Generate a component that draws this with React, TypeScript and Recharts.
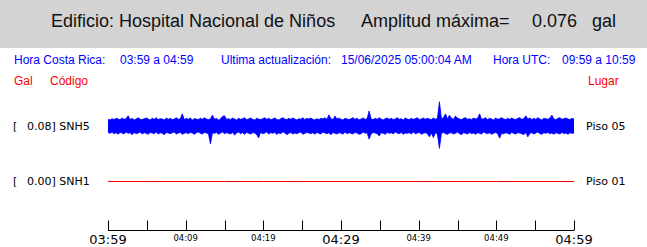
import { Area, ComposedChart, Line, XAxis, YAxis } from 'recharts'

// SNH5 (gal): upper and lower swing of the record, one value per ~2 px column of the reference
const snh5Max = [
  0.021, 0.019, 0.023, 0.020, 0.024, 0.022, 0.020, 0.025, 0.021, 0.023, 0.032, 0.020, 0.024, 0.019, 0.022, 0.026, 0.021, 0.020, 0.023, 0.025,
  0.022, 0.019, 0.024, 0.021, 0.026, 0.020, 0.023, 0.022, 0.019, 0.025, 0.021, 0.024, 0.020, 0.022, 0.026, 0.021, 0.023, 0.038, 0.020, 0.024,
  0.021, 0.025, 0.019, 0.023, 0.022, 0.020, 0.024, 0.021, 0.026, 0.022, 0.020, 0.023, 0.034, 0.021, 0.024, 0.019, 0.022, 0.030, 0.032, 0.021,
  0.023, 0.020, 0.025, 0.022, 0.019, 0.024, 0.021, 0.023, 0.026, 0.020, 0.022, 0.025, 0.021, 0.019, 0.024, 0.022, 0.020, 0.023, 0.026, 0.021,
  0.024, 0.020, 0.022, 0.025, 0.021, 0.019, 0.023, 0.026, 0.022, 0.020, 0.024, 0.021, 0.025, 0.022, 0.019, 0.023, 0.021, 0.026, 0.020, 0.024,
  0.022, 0.025, 0.021, 0.019, 0.023, 0.020, 0.024, 0.022, 0.026, 0.021, 0.035, 0.023, 0.020, 0.031, 0.022, 0.025, 0.021, 0.019, 0.024, 0.022,
  0.020, 0.023, 0.026, 0.021, 0.024, 0.019, 0.022, 0.025, 0.021, 0.023, 0.047, 0.022, 0.020, 0.024, 0.021, 0.026, 0.022, 0.019, 0.023, 0.025,
  0.021, 0.024, 0.020, 0.022, 0.026, 0.021, 0.023, 0.019, 0.025, 0.022, 0.020, 0.024, 0.021, 0.023, 0.026, 0.020, 0.022, 0.025, 0.021, 0.024,
  0.022, 0.020, 0.025, 0.021, 0.024, 0.076, 0.023, 0.026, 0.038, 0.022, 0.034, 0.024, 0.021, 0.031, 0.025, 0.022, 0.020, 0.024, 0.026, 0.021,
  0.023, 0.020, 0.025, 0.022, 0.024, 0.038, 0.021, 0.023, 0.026, 0.020, 0.024, 0.022, 0.019, 0.025, 0.021, 0.023, 0.026, 0.022, 0.020, 0.024,
  0.021, 0.025, 0.022, 0.020, 0.024, 0.026, 0.021, 0.023, 0.032, 0.022, 0.025, 0.020, 0.024, 0.021, 0.026, 0.022, 0.019, 0.024, 0.023, 0.021,
  0.025, 0.034, 0.022, 0.020, 0.024, 0.026, 0.021, 0.023, 0.025, 0.022, 0.020, 0.024, 0.022,
]
const snh5Min = [
  -0.020, -0.023, -0.019, -0.024, -0.021, -0.026, -0.020, -0.022, -0.025, -0.019, -0.023, -0.021, -0.027, -0.020, -0.024, -0.022, -0.019, -0.025, -0.021, -0.023,
  -0.026, -0.020, -0.022, -0.024, -0.019, -0.025, -0.021, -0.023, -0.027, -0.020, -0.022, -0.024, -0.021, -0.019, -0.025, -0.022, -0.020, -0.026, -0.023, -0.021,
  -0.024, -0.020, -0.022, -0.026, -0.021, -0.019, -0.023, -0.025, -0.020, -0.022, -0.024, -0.056, -0.021, -0.023, -0.020, -0.026, -0.022, -0.019, -0.024, -0.021,
  -0.023, -0.025, -0.020, -0.028, -0.022, -0.019, -0.024, -0.021, -0.026, -0.020, -0.023, -0.025, -0.021, -0.022, -0.027, -0.037, -0.020, -0.024, -0.022, -0.019,
  -0.025, -0.021, -0.023, -0.020, -0.026, -0.022, -0.024, -0.019, -0.021, -0.027, -0.023, -0.020, -0.025, -0.022, -0.024, -0.021, -0.019, -0.026, -0.023, -0.020,
  -0.022, -0.024, -0.021, -0.026, -0.020, -0.023, -0.025, -0.019, -0.022, -0.024, -0.021, -0.027, -0.020, -0.023, -0.025, -0.021, -0.022, -0.026, -0.019, -0.024,
  -0.021, -0.023, -0.025, -0.020, -0.022, -0.026, -0.024, -0.019, -0.023, -0.021, -0.041, -0.025, -0.020, -0.022, -0.024, -0.031, -0.021, -0.023, -0.026, -0.020,
  -0.023, -0.021, -0.025, -0.019, -0.022, -0.024, -0.020, -0.026, -0.022, -0.023, -0.021, -0.025, -0.019, -0.024, -0.022, -0.020, -0.026, -0.023, -0.021, -0.024,
  -0.034, -0.022, -0.036, -0.021, -0.025, -0.070, -0.023, -0.020, -0.024, -0.026, -0.022, -0.021, -0.025, -0.023, -0.019, -0.024, -0.027, -0.021, -0.023, -0.025,
  -0.020, -0.024, -0.022, -0.026, -0.021, -0.023, -0.025, -0.019, -0.022, -0.024, -0.021, -0.026, -0.023, -0.020, -0.024, -0.038, -0.022, -0.025, -0.021, -0.023,
  -0.026, -0.020, -0.023, -0.025, -0.021, -0.022, -0.024, -0.027, -0.020, -0.034, -0.023, -0.021, -0.025, -0.022, -0.019, -0.024, -0.026, -0.021, -0.023, -0.020,
  -0.024, -0.022, -0.026, -0.021, -0.023, -0.025, -0.020, -0.024, -0.022, -0.026, -0.021, -0.023, -0.022,
]
// SNH1 readings (gal) at each 5 minute mark
const snh1Minutes = [0, 5, 10, 15, 20, 25, 30, 35, 40, 45, 50, 55, 60]
const snh1 = [0, 0, 0, 0, 0, 0, 0, 0, 0, 0, 0, 0, 0]

// time axis, minutes after 03:59
const tickMinutes = [0, 5, 10, 15, 20, 25, 30, 35, 40, 45, 50, 55, 60]
const tickLabels = ['03:59', '', '04:09', '', '04:19', '', '04:29', '', '04:39', '', '04:49', '', '04:59']
const majorLabels = ['03:59', '04:29', '04:59']

const STEP_MIN = 60 / (snh5Max.length - 1)
const snh5Data = snh5Max.map((hi, i) => ({ t: i * STEP_MIN, hi, lo: snh5Min[i] }))
const snh1Data = snh1.map((v, i) => ({ t: snh1Minutes[i], v }))

const BLUE = '#0000ff'
const RED = '#ff0000'

function TimeTick(props: any) {
  const { x, y, payload } = props
  const label = tickLabels[tickMinutes.indexOf(payload.value)]
  const major = majorLabels.includes(label)
  const cx = Math.round(x) + 0.5
  return (
    <g>
      <line x1={cx} x2={cx} y1={y - 10} y2={y} stroke='#000' />
      {label && (
        <text
          x={x}
          y={major ? y + 13 : y + 10}
          textAnchor='middle'
          fontSize={major ? 13 : 8.5}
          fontFamily='DejaVu Sans'
          fill='#000'
        >
          {label}
        </text>
      )}
    </g>
  )
}

export default function App() {
  return (
    <div style={{ position: 'absolute', left: 0, top: 0, width: 647, height: 247, background: '#fff' }}>
      <svg width={647} height={247} style={{ position: 'absolute', left: 0, top: 0 }}>
        <rect x={0} y={0} width={647} height={48} fill='#d3d3d3' />
        <g fontFamily='Liberation Sans' fontSize={18} fill='#111'>
          <text x={51} y={27}>Edificio: Hospital Nacional de Niños</text>
          <text x={361} y={27}>Amplitud máxima=</text>
          <text x={532} y={27}>0.076</text>
          <text x={592} y={27}>gal</text>
        </g>
        <g fontFamily='Liberation Sans' fontSize={12} fill={BLUE}>
          <text x={14} y={64}>Hora Costa Rica:</text>
          <text x={120} y={64}>03:59 a 04:59</text>
          <text x={221} y={64}>Ultima actualización:</text>
          <text x={341} y={64}>15/06/2025 05:00:04 AM</text>
          <text x={493} y={64}>Hora UTC:</text>
          <text x={562} y={64}>09:59 a 10:59</text>
        </g>
        <g fontFamily='Liberation Sans' fontSize={12} fill={RED}>
          <text x={14} y={85}>Gal</text>
          <text x={50} y={85}>Código</text>
          <text x={588} y={85}>Lugar</text>
        </g>
        <g fontFamily='DejaVu Sans' fontSize={11} fill='#000'>
          <text x={13} y={130}>[</text>
          <text x={27} y={130}>0.08] SNH5</text>
          <text x={586} y={130}>Piso 05</text>
          <text x={13} y={185}>[</text>
          <text x={27} y={185}>0.00] SNH1</text>
          <text x={586} y={185}>Piso 01</text>
        </g>
      </svg>
      <div style={{ position: 'absolute', left: 0, top: 0 }}>
        <ComposedChart width={647} height={247} margin={{ top: 90, right: 73, bottom: 0, left: 108 }}>
          <XAxis
            dataKey='t'
            type='number'
            domain={[0, 60]}
            allowDataOverflow
            ticks={tickMinutes}
            interval={0}
            height={16.5}
            tickSize={0}
            tickMargin={0}
            tickLine={false}
            axisLine={{ stroke: '#000' }}
            tick={<TimeTick />}
          />
          <YAxis yAxisId='snh5' hide type='number' domain={[-0.3271, 0.1127]} allowDataOverflow />
          <YAxis yAxisId='snh1' hide type='number' domain={[-49, 91.5]} allowDataOverflow />
          <Area
            yAxisId='snh5'
            data={snh5Data}
            dataKey={(d: any) => [d.lo, d.hi]}
            type='linear'
            stroke={BLUE}
            strokeWidth={0.8}
            fill={BLUE}
            fillOpacity={1}
            dot={false}
            activeDot={false}
            isAnimationActive={false}
          />
          <Line
            yAxisId='snh1'
            data={snh1Data}
            dataKey='v'
            type='linear'
            stroke={RED}
            strokeWidth={1}
            dot={false}
            activeDot={false}
            isAnimationActive={false}
          />
        </ComposedChart>
      </div>
    </div>
  )
}
